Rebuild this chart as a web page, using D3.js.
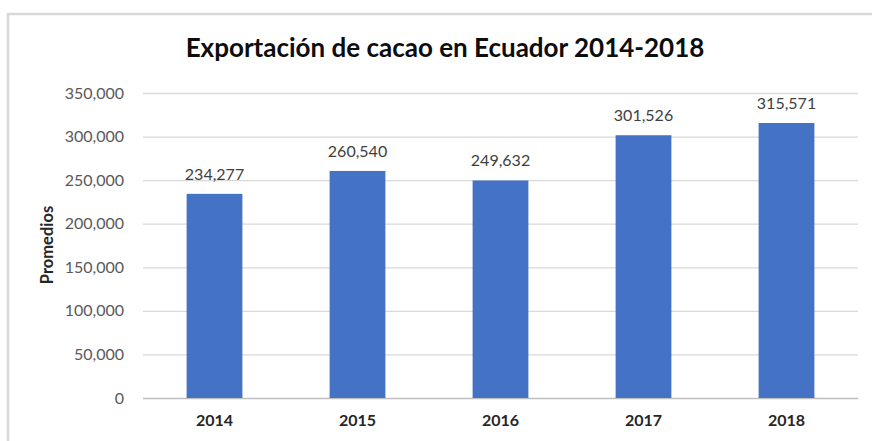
<!DOCTYPE html>
<html>
<head>
<meta charset="utf-8">
<script src="https://cdn.jsdelivr.net/npm/d3@7"></script>
<style>
  body { margin: 0; background: #fff; }
  svg { display: block; }
  text { font-family: Lato, "Open Sans", sans-serif; }
</style>
</head>
<body>
<svg id="chart"></svg>
<script>
// Data
const years = ["2014", "2015", "2016", "2017", "2018"];
const promedios = [234277, 260540, 249632, 301526, 315571];
const yTicks = [0, 50000, 100000, 150000, 200000, 250000, 300000, 350000];

// Constants
const width = 872;
const height = 441;
const margin = { top: 93, right: 13, bottom: 43, left: 143 };

const svg = d3.select("#chart")
    .attr("width", width)
    .attr("height", height);

// chart frame (cut off on the right and bottom)
svg.append("rect")
    .attr("x", 8)
    .attr("y", 14)
    .attr("width", width)
    .attr("height", height)
    .attr("fill", "none")
    .attr("stroke", "#d9d9d9")
    .attr("stroke-width", 2.5);

// Scales
const xScale = d3.scaleBand()
    .domain(years)
    .range([margin.left, width - margin.right - 1])
    .paddingInner(0.61)
    .paddingOuter(0.305);

const yScale = d3.scaleLinear()
    .domain([0, 350000])
    .range([height - margin.bottom, margin.top]);

// Gridlines + y labels
const yAxis = d3.axisLeft(yScale)
    .tickValues(yTicks)
    .tickFormat(d3.format(","))
    .tickSize(-(xScale.range()[1] - margin.left))
    .tickPadding(19);

const gy = svg.append("g")
    .attr("transform", `translate(${margin.left},0)`)
    .call(yAxis);
gy.select(".domain").remove();
gy.selectAll(".tick line")
    .attr("stroke", d => d === 0 ? "#bfbfbf" : "#d9d9d9")
    .attr("stroke-width", 1.3);
gy.selectAll(".tick text")
    .attr("fill", "#595959")
    .attr("font-size", 16);

// Bars
svg.append("g")
  .selectAll("rect")
  .data(promedios)
  .enter()
    .append("rect")
    .attr("x", (d, i) => xScale(years[i]))
    .attr("y", d => yScale(d))
    .attr("width", xScale.bandwidth())
    .attr("height", d => yScale(0) - yScale(d))
    .attr("fill", "#4472c4");

// Value labels
svg.append("g")
  .selectAll("text")
  .data(promedios)
  .enter()
    .append("text")
    .attr("x", (d, i) => xScale(years[i]) + xScale.bandwidth() / 2)
    .attr("y", d => yScale(d) - 14)
    .attr("text-anchor", "middle")
    .attr("fill", "#404040")
    .attr("font-size", 16)
    .text(d3.format(","));

// x labels
const xAxis = d3.axisBottom(xScale).tickSize(0).tickPadding(17);
const gx = svg.append("g")
    .attr("transform", `translate(0,${height - margin.bottom})`)
    .call(xAxis);
gx.select(".domain").remove();
gx.selectAll(".tick text")
    .attr("fill", "#262626")
    .attr("font-size", 16)
    .attr("font-weight", "bold");

// Axis title
svg.append("text")
    .attr("transform", "rotate(-90)")
    .attr("x", -245)
    .attr("y", 53)
    .attr("text-anchor", "middle")
    .attr("font-size", 16.5)
    .attr("font-weight", "bold")
    .attr("fill", "#262626")
    .text("Promedios");

// Title
svg.append("text")
    .attr("x", 445)
    .attr("y", 57)
    .attr("text-anchor", "middle")
    .attr("font-size", 26)
    .attr("font-weight", "bold")
    .attr("fill", "#0d0d0d")
    .text("Exportación de cacao en Ecuador 2014-2018");
</script>
</body>
</html>
